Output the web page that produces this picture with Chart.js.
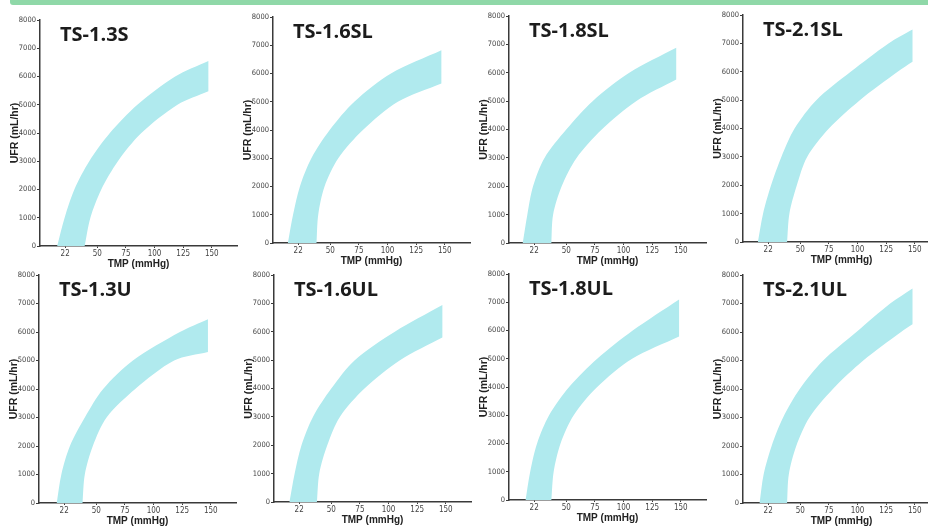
<!DOCTYPE html>
<html>
<head>
<meta charset="utf-8">
<script src="https://cdn.jsdelivr.net/npm/chart.js@4.4.1/dist/chart.umd.min.js"></script>
<style>
  html, body { margin: 0; padding: 0; background: #fff; }
  body { width: 928px; height: 526px; position: relative; overflow: hidden; }
  .topband { position: absolute; left: 10px; top: 0; width: 930px; height: 5px; background: #8fd8a8; border-bottom-left-radius: 3px; }
  canvas { position: absolute; }
</style>
</head>
<body>
<div class="topband"></div>

<script>
// panel names, left to right, top row then bottom row
const panelNames = ['TS-1.3S', 'TS-1.6SL', 'TS-1.8SL', 'TS-2.1SL', 'TS-1.3U', 'TS-1.6UL', 'TS-1.8UL', 'TS-2.1UL'];
const tmpTicks = [22, 50, 75, 100, 125, 150];
const ufrMax = 8000;
const ufrStep = 1000;

// band edges, [TMP mmHg, UFR mL/hr]
const ts13sUpper = [[15, 0], [21.5, 1000], [30, 2000], [43, 3000], [61, 4000], [85, 5000], [118, 6000], [147, 6550]];
const ts13sLower = [[39, 0], [44, 1000], [53.5, 2000], [68, 3000], [88.5, 4000], [120, 5000], [147, 5480]];
const ts16slUpper = [[13, 0], [17.5, 1000], [23.5, 2000], [33.5, 3000], [49.5, 4000], [71, 5000], [103, 6000], [147, 6820]];
const ts16slLower = [[38, 0], [39.5, 1000], [45, 2000], [57, 3000], [78.5, 4000], [109, 5000], [147, 5650]];
const ts18slUpper = [[12, 0], [16, 1000], [21, 2000], [31, 3000], [50, 4000], [73, 5000], [105, 6000], [146, 6880]];
const ts18slLower = [[37, 0], [38.5, 1000], [46, 2000], [59, 3000], [81, 4000], [111, 5000], [146, 5760]];
const ts21slUpper = [[13, 0], [17.5, 1000], [24.5, 2000], [33.5, 3000], [45, 4000], [64, 5000], [94, 6000], [127, 7000], [148, 7490]];
const ts21slLower = [[38.5, 0], [40.5, 1000], [47, 2000], [56, 3000], [75, 4000], [102, 5000], [135, 6000], [148, 6350]];
const ts13uUpper = [[15.5, 0], [19.5, 1000], [27, 2000], [40, 3000], [56, 4000], [82, 5000], [123, 6000], [147.5, 6450]];
const ts13uLower = [[38, 0], [40, 1000], [47, 2000], [59, 3000], [84, 4000], [118, 5000], [147.5, 5300]];
const ts16ulUpper = [[13.5, 0], [18, 1000], [24, 2000], [34, 3000], [50, 4000], [70.5, 5000], [105.5, 6000], [147, 6940]];
const ts16ulLower = [[37.5, 0], [39.5, 1000], [46.5, 2000], [57.5, 3000], [79, 4000], [110, 5000], [147, 5800]];
const ts18ulUpper = [[14.5, 0], [18.5, 1000], [24.5, 2000], [35, 3000], [52.5, 4000], [77, 5000], [108, 6000], [148.5, 7100]];
const ts18ulLower = [[37, 0], [39, 1000], [45, 2000], [56.5, 3000], [77, 4000], [107.5, 5000], [148.5, 5790]];
const ts21ulUpper = [[14.5, 0], [18, 1000], [25, 2000], [35, 3000], [49.5, 4000], [70, 5000], [99, 6000], [128.5, 7000], [148, 7530]];
const ts21ulLower = [[38.5, 0], [40, 1000], [46.5, 2000], [58, 3000], [78.5, 4000], [105, 5000], [138, 6000], [148, 6270]];

const upperEdges = [ts13sUpper, ts16slUpper, ts18slUpper, ts21slUpper, ts13uUpper, ts16ulUpper, ts18ulUpper, ts21ulUpper];
const lowerEdges = [ts13sLower, ts16slLower, ts18slLower, ts21slLower, ts13uLower, ts16ulLower, ts18ulLower, ts21ulLower];

// where each panel's axes sit on the page: y axis x, top of y axis, x axis y
const panelBoxes = [
  [40, 20, 246], [273, 17, 243], [509, 16, 243], [743, 15, 242],
  [39, 275, 503], [274, 275, 502], [509, 274, 500], [743, 275, 503]
];

const yAxisW = 40, xAxisH = 24, padTop = 8, plotW = 197;
const tickFont = "'Liberation Sans Narrow', 'DejaVu Sans Condensed', 'Liberation Sans', sans-serif";

const panelTitle = {
  id: 'panelTitle',
  afterDraw(chart, args, opts) {
    const ctx = chart.ctx, area = chart.chartArea;
    ctx.save();
    ctx.font = "bold 20px 'Open Sans', 'Noto Sans', sans-serif";
    ctx.fillStyle = '#1c1c1c';
    ctx.textBaseline = 'alphabetic';
    ctx.fillText(opts.text, area.left + 20, area.top + 21);
    ctx.restore();
  }
};

// closed outline: up the upper edge, down the lower edge (corners doubled so they stay sharp)
function bandOutline(upper, lower) {
  let pts = [];
  upper.forEach(p => pts.push({x: p[0], y: p[1]}));
  pts.unshift({x: upper[0][0], y: upper[0][1]});
  pts.push({x: upper[upper.length - 1][0], y: upper[upper.length - 1][1]});
  let rev = lower.slice().reverse();
  pts.push({x: rev[0][0], y: rev[0][1]});
  rev.forEach(p => pts.push({x: p[0], y: p[1]}));
  pts.push({x: rev[rev.length - 1][0], y: rev[rev.length - 1][1]});
  return pts;
}

for (let i = 0; i < panelNames.length; i++) {
  const [ax, yTop, y0] = panelBoxes[i];
  const cv = document.createElement('canvas');
  const w = yAxisW + plotW + 2;
  const h = (y0 - yTop) + padTop + xAxisH;
  cv.width = w; cv.height = h;
  cv.style.left = (ax - yAxisW) + 'px';
  cv.style.top = (yTop - padTop) + 'px';
  cv.style.width = w + 'px';
  cv.style.height = h + 'px';
  document.body.appendChild(cv);

  new Chart(cv.getContext('2d'), {
    type: 'scatter',
    data: {
      datasets: [{
        label: panelNames[i],
        data: bandOutline(upperEdges[i], lowerEdges[i]),
        showLine: true,
        fill: 'shape',
        backgroundColor: 'rgb(176, 234, 238)',
        borderWidth: 0,
        borderColor: 'rgba(0,0,0,0)',
        pointRadius: 0,
        tension: 0.3
      }]
    },
    options: {
      responsive: false,
      animation: false,
      devicePixelRatio: 1,
      layout: { padding: { top: padTop, right: 2, left: 0, bottom: 0 } },
      plugins: {
        legend: { display: false },
        tooltip: { enabled: false },
        panelTitle: { text: panelNames[i] }
      },
      scales: {
        x: {
          type: 'linear',
          min: 0,
          max: 172,
          afterBuildTicks: s => { s.ticks = tmpTicks.map(v => ({ value: v })); },
          afterFit: s => { s.height = xAxisH; },
          border: { color: '#3a3a3a', width: 1.5 },
          grid: { drawOnChartArea: false, tickLength: 2, color: '#3a3a3a' },
          ticks: { autoSkip: false, maxRotation: 0, padding: 1, color: '#444', font: { family: tickFont, size: 8 } },
          title: { display: true, text: 'TMP (mmHg)', color: '#222', padding: 0, font: { family: "'Liberation Sans', sans-serif", size: 10, weight: 'bold' } }
        },
        y: {
          min: 0,
          max: ufrMax,
          afterFit: s => { s.width = yAxisW; },
          border: { color: '#3a3a3a', width: 1.5 },
          grid: { drawOnChartArea: false, tickLength: 3, color: '#3a3a3a' },
          ticks: { stepSize: ufrStep, padding: 1, color: '#444', font: { family: tickFont, size: 7.5 }, callback: v => String(v) },
          title: { display: true, text: 'UFR (mL/hr)', color: '#222', padding: { top: 9, bottom: 0 }, font: { family: "'Liberation Sans', sans-serif", size: 10.5, weight: 'bold' } }
        }
      }
    },
    plugins: [panelTitle]
  });
}
</script>
</body>
</html>
